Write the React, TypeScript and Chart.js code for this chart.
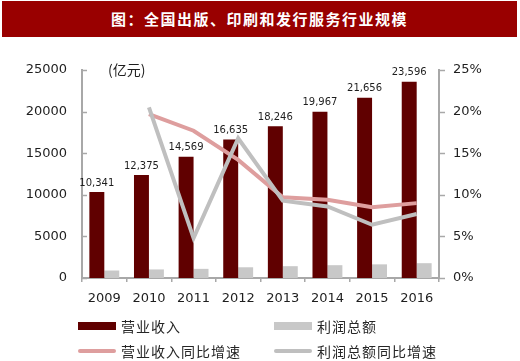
import React, { useEffect, useRef } from "react";
import { Chart, registerables } from "chart.js";

Chart.register(...registerables);

const titleText = "图：全国出版、印刷和发行服务行业规模";
const unitText = "(亿元)";
const years = ["2009", "2010", "2011", "2012", "2013", "2014", "2015", "2016"];
const revenue = [10341, 12375, 14569, 16635, 18246, 19967, 21656, 23596];
const profit = [900, 1030, 1100, 1290, 1420, 1540, 1640, 1780];
const revenueGrowth = [null, 19.7, 17.7, 14.2, 9.7, 9.4, 8.5, 9.0];
const profitGrowth = [null, 20.5, 4.8, 16.8, 9.3, 8.6, 6.4, 7.7];
const seriesNames = ["营业收入", "利润总额", "营业收入同比增速", "利润总额同比增速"];

const DARK = "#600000";
const GRAY_BAR = "#C8C8C8";
const PINK = "#DE9E9E";
const GRAY_LINE = "#BFBFBF";
const AXIS = "#A8A8A8";
const TEXT = "#1e1e1e";
const FONT = "'DejaVu Sans', Verdana, sans-serif";
const CJK = "'Noto Sans CJK SC', sans-serif";

const extrasPlugin = {
  id: "extras",
  afterDatasetsDraw(chart: any) {
    const ctx = chart.ctx;
    const meta = chart.getDatasetMeta(0);
    ctx.save();
    ctx.fillStyle = TEXT;
    ctx.font = `10px ${FONT}`;
    ctx.textAlign = "center";
    ctx.textBaseline = "bottom";
    meta.data.forEach((bar: any, i: number) => {
      ctx.fillText(revenue[i].toLocaleString("en-US"), bar.x, bar.y - 4);
    });
    ctx.strokeStyle = AXIS;
    ctx.lineWidth = 1.5;
    const y = chart.scales.y;
    const y1 = chart.scales.y1;
    y.ticks.forEach((t: any) => {
      const p = Math.round(y.getPixelForValue(t.value)) + 0.5;
      ctx.beginPath();
      ctx.moveTo(y.right, p);
      ctx.lineTo(y.right + 5, p);
      ctx.stroke();
    });
    y1.ticks.forEach((t: any) => {
      const p = Math.round(y1.getPixelForValue(t.value)) + 0.5;
      ctx.beginPath();
      ctx.moveTo(y1.left, p);
      ctx.lineTo(y1.left + 6, p);
      ctx.stroke();
    });
    ctx.restore();
  },
};

export default function App() {
  const ref = useRef<HTMLCanvasElement>(null);
  useEffect(() => {
    if (!ref.current) return;
    const chart = new Chart(ref.current, {
      type: "bar",
      data: {
        labels: years,
        datasets: [
          {
            type: "bar",
            label: seriesNames[0],
            data: revenue,
            backgroundColor: DARK,
            yAxisID: "y",
            order: 3,
            categoryPercentage: 0.67,
            barPercentage: 1.0,
          },
          {
            type: "bar",
            label: seriesNames[1],
            data: profit,
            backgroundColor: GRAY_BAR,
            yAxisID: "y",
            order: 3,
            categoryPercentage: 0.67,
            barPercentage: 1.0,
          },
          {
            type: "line",
            label: seriesNames[2],
            data: revenueGrowth,
            borderColor: PINK,
            backgroundColor: PINK,
            borderWidth: 4,
            pointRadius: 0,
            tension: 0,
            yAxisID: "y1",
            order: 2,
          },
          {
            type: "line",
            label: seriesNames[3],
            data: profitGrowth,
            borderColor: GRAY_LINE,
            backgroundColor: GRAY_LINE,
            borderWidth: 4,
            pointRadius: 0,
            tension: 0,
            yAxisID: "y1",
            order: 1,
          },
        ] as any,
      },
      options: {
        responsive: false,
        animation: false,
        layout: { padding: { top: 70, left: 0, right: 0, bottom: 0 } },
        plugins: {
          legend: { display: false },
          tooltip: { enabled: false },
          title: { display: false },
        },
        scales: {
          x: {
            offset: true,
            grid: {
              offset: true,
              drawOnChartArea: false,
              drawTicks: true,
              tickLength: 4,
              color: AXIS,
              lineWidth: 1.5,
            },
            border: { display: true, color: AXIS, width: 2 },
            ticks: {
              color: TEXT,
              font: { family: FONT, size: 13 },
              padding: 9,
              maxRotation: 0,
            },
            afterFit(scale: any) {
              scale.height = 83;
            },
          },
          y: {
            position: "left",
            min: 0,
            max: 25000,
            ticks: {
              stepSize: 5000,
              color: TEXT,
              font: { family: FONT, size: 13 },
              padding: 15,
              callback: (v: any) => String(v),
            },
            grid: { display: false, drawTicks: false },
            border: { display: true, color: AXIS, width: 2 },
            afterFit(scale: any) {
              scale.width = 82;
            },
          },
          y1: {
            position: "right",
            min: 0,
            max: 25,
            ticks: {
              stepSize: 5,
              color: TEXT,
              font: { family: FONT, size: 13 },
              padding: 14,
              callback: (v: any) => `${v}%`,
            },
            grid: { display: false, drawTicks: false },
            border: { display: true, color: AXIS, width: 2 },
            afterFit(scale: any) {
              scale.width = 81;
            },
          },
        },
      } as any,
      plugins: [extrasPlugin],
    });
    return () => chart.destroy();
  }, []);

  const legendText: React.CSSProperties = {
    position: "absolute",
    font: `14px ${CJK}`,
    color: "#262626",
    letterSpacing: "1px",
    lineHeight: "16px",
    whiteSpace: "nowrap",
  };

  return (
    <div
      style={{
        position: "fixed",
        left: 0,
        top: 0,
        width: 520,
        height: 361,
        background: "#fff",
        overflow: "hidden",
      }}
    >
      <div
        style={{
          position: "absolute",
          left: 2,
          top: 1,
          width: 515,
          height: 36,
          background: "#990000",
          color: "#fff",
          font: `bold 15px ${CJK}`,
          letterSpacing: "1.5px",
          lineHeight: "36px",
          textAlign: "center",
        }}
      >
        {titleText}
      </div>
      <canvas
        ref={ref}
        width={520}
        height={361}
        style={{ position: "absolute", left: 0, top: 0, width: 520, height: 361 }}
      />
      <div style={{ ...legendText, left: 108, top: 61, color: TEXT, letterSpacing: "0px" }}>{unitText}</div>
      <div style={{ position: "absolute", left: 78, top: 322, width: 38, height: 8, background: DARK }} />
      <div style={{ ...legendText, left: 121, top: 318 }}>{seriesNames[0]}</div>
      <div style={{ position: "absolute", left: 274, top: 322, width: 38, height: 8, background: GRAY_BAR }} />
      <div style={{ ...legendText, left: 317, top: 318 }}>{seriesNames[1]}</div>
      <div style={{ position: "absolute", left: 78, top: 349, width: 38, height: 4, background: PINK, borderRadius: 2 }} />
      <div style={{ ...legendText, left: 121, top: 343 }}>{seriesNames[2]}</div>
      <div style={{ position: "absolute", left: 274, top: 349, width: 38, height: 4, background: GRAY_LINE, borderRadius: 2 }} />
      <div style={{ ...legendText, left: 317, top: 343 }}>{seriesNames[3]}</div>
    </div>
  );
}
